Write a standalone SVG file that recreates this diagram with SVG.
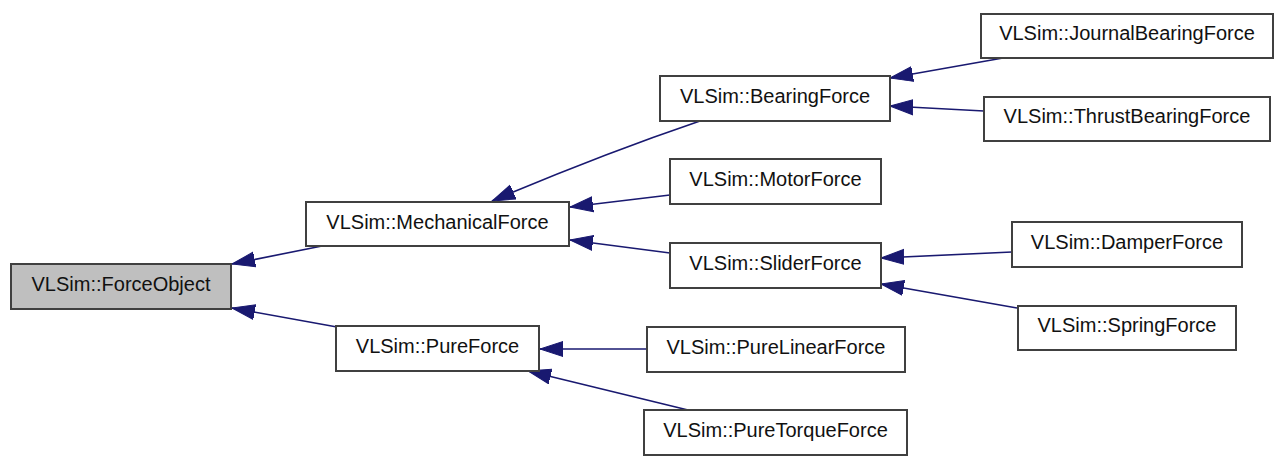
<svg xmlns="http://www.w3.org/2000/svg" width="1285" height="466" viewBox="0 0 1285 466">
<style>
.box{fill:#ffffff;stroke:#404040;stroke-width:2}
.root{fill:#bfbfbf}
.lbl{font-family:"Liberation Sans",Arial,sans-serif;font-size:20px;fill:#111;text-anchor:middle}
.edge{fill:none;stroke:#191970;stroke-width:1.6;marker-end:url(#ah)}
</style>
<defs>
<marker id="ah" markerUnits="userSpaceOnUse" markerWidth="24" markerHeight="17" refX="23" refY="8.5" orient="auto">
<path d="M0,1 L23,8.5 L0,16 z" fill="#191970" stroke="#191970" stroke-width="1"/>
</marker>
</defs>
<rect width="1285" height="466" fill="#ffffff"/>
<g id="connectors">
<path class="edge" d="M327,245 L232,264"/>
<path class="edge" d="M337,327 L232,308"/>
<path class="edge" d="M700,121 Q600,155 492,201"/>
<path class="edge" d="M670,195 L570,207"/>
<path class="edge" d="M670,253 L570,240"/>
<path class="edge" d="M648,349 L540,349"/>
<path class="edge" d="M688,410 L528,371"/>
<path class="edge" d="M1003,58 L890,78"/>
<path class="edge" d="M984,111 L890,106"/>
<path class="edge" d="M1012,252 L881,258"/>
<path class="edge" d="M1017,308 L881,284"/>
</g>
<g id="ForceObject"><rect class="box root" x="11" y="264" width="220" height="45"/><text class="lbl" x="121" y="291">VLSim::ForceObject</text></g>
<g id="MechanicalForce"><rect class="box" x="306" y="202" width="263" height="44"/><text class="lbl" x="437.5" y="229">VLSim::MechanicalForce</text></g>
<g id="PureForce"><rect class="box" x="336" y="326" width="203" height="45"/><text class="lbl" x="437.5" y="353">VLSim::PureForce</text></g>
<g id="BearingForce"><rect class="box" x="660" y="76" width="230" height="45"/><text class="lbl" x="775" y="103">VLSim::BearingForce</text></g>
<g id="MotorForce"><rect class="box" x="670" y="159" width="211" height="45"/><text class="lbl" x="775.5" y="186">VLSim::MotorForce</text></g>
<g id="SliderForce"><rect class="box" x="670" y="243" width="211" height="45"/><text class="lbl" x="775.5" y="270">VLSim::SliderForce</text></g>
<g id="PureLinearForce"><rect class="box" x="647" y="327" width="258" height="45"/><text class="lbl" x="776" y="354">VLSim::PureLinearForce</text></g>
<g id="PureTorqueForce"><rect class="box" x="644" y="410" width="263" height="45"/><text class="lbl" x="775.5" y="437">VLSim::PureTorqueForce</text></g>
<g id="JournalBearingForce"><rect class="box" x="981" y="14" width="292" height="44"/><text class="lbl" x="1127" y="40">VLSim::JournalBearingForce</text></g>
<g id="ThrustBearingForce"><rect class="box" x="984" y="97" width="286" height="44"/><text class="lbl" x="1127" y="123">VLSim::ThrustBearingForce</text></g>
<g id="DamperForce"><rect class="box" x="1012" y="222" width="230" height="45"/><text class="lbl" x="1127" y="249">VLSim::DamperForce</text></g>
<g id="SpringForce"><rect class="box" x="1018" y="306" width="218" height="44"/><text class="lbl" x="1127" y="332">VLSim::SpringForce</text></g>
</svg>
